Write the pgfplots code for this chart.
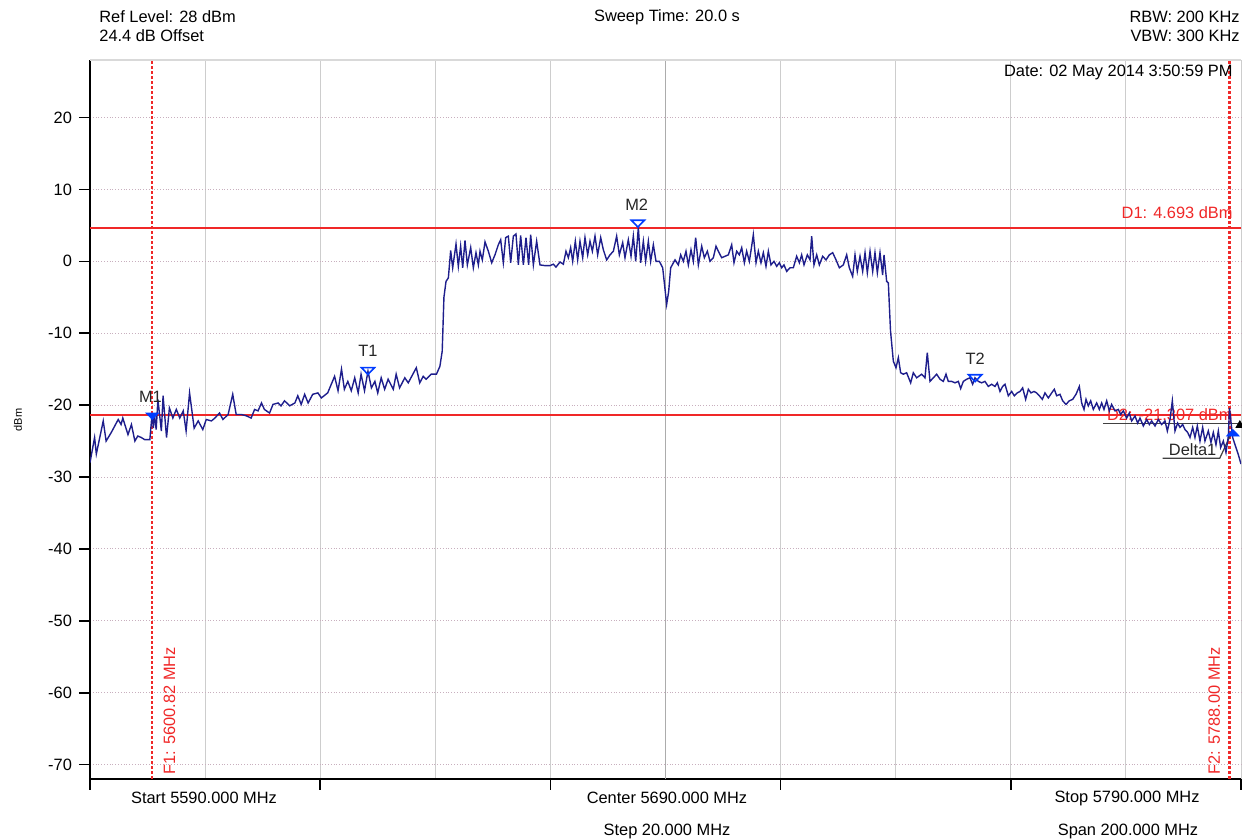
\documentclass[border=0pt]{standalone}
\usepackage{fontspec}
\setmainfont{Liberation Sans}
\usepackage{pgfplots}
\usepackage{pgfplotstable}
\pgfplotsset{compat=1.18}
\definecolor{trace}{RGB}{30,30,140}
\definecolor{mblue}{RGB}{0,60,255}
\definecolor{lred}{RGB}{240,40,40}
\definecolor{vgrid}{RGB}{205,205,205}
\definecolor{hgrid}{RGB}{200,175,190}

\pgfplotstableread{
f v
5590.0 -28.0
5590.8 -24.5
5591.1 -26.8
5592.3 -22.2
5592.8 -25.0
5593.7 -23.8
5594.9 -22.0
5595.4 -22.7
5595.7 -21.8
5596.6 -24.1
5597.2 -22.7
5597.8 -25.0
5598.3 -24.3
5598.9 -24.5
5599.5 -24.8
5600.4 -24.8
5600.8 -21.1
5601.0 -23.2
5601.2 -21.3
5601.5 -23.4
5601.8 -19.2
5602.4 -23.6
5602.7 -18.7
5603.3 -24.5
5603.8 -20.4
5604.4 -21.8
5605.0 -20.6
5605.6 -21.8
5606.2 -20.8
5606.7 -23.6
5607.3 -18.3
5608.1 -23.2
5608.8 -22.2
5609.6 -23.4
5610.2 -22.0
5611.1 -22.2
5611.7 -21.8
5612.5 -21.1
5613.1 -22.0
5614.0 -21.3
5614.8 -18.5
5615.4 -21.3
5616.3 -21.3
5617.2 -21.5
5618.0 -21.8
5618.6 -20.6
5619.2 -20.8
5619.8 -19.7
5620.3 -20.6
5621.2 -21.1
5621.8 -19.9
5622.7 -19.7
5623.2 -20.1
5623.8 -19.4
5624.7 -20.1
5625.6 -19.7
5626.1 -18.7
5626.7 -19.9
5627.3 -18.5
5627.9 -19.7
5628.7 -18.5
5629.6 -18.3
5630.2 -19.0
5631.3 -18.3
5632.5 -16.0
5633.1 -18.0
5633.7 -15.0
5634.2 -17.8
5634.8 -16.7
5635.4 -18.0
5636.0 -16.2
5636.6 -18.3
5637.1 -15.7
5637.7 -18.0
5638.3 -15.3
5638.9 -17.6
5639.5 -16.7
5640.0 -18.3
5640.6 -16.2
5641.2 -17.8
5641.8 -16.4
5642.7 -17.8
5643.2 -15.7
5643.8 -17.6
5644.7 -16.2
5645.3 -16.9
5646.1 -15.7
5646.7 -14.8
5647.3 -16.9
5647.9 -16.0
5648.4 -16.4
5649.3 -15.7
5650.2 -15.7
5650.8 -14.6
5651.2 -12.5
5651.5 -5.0
5651.86 -2.8
5652.27 -2.3
5652.67 1.5
5653.02 -0.9
5653.6 2.4
5654.0 -0.7
5654.4 2.1
5654.76 -0.9
5655.16 2.9
5655.57 -0.5
5656.15 1.9
5656.61 -0.9
5657.07 1.2
5657.48 -0.5
5657.77 1.4
5658.17 0.2
5658.64 2.7
5659.22 1.4
5659.8 -0.2
5660.37 0.9
5660.95 2.3
5661.36 3.0
5661.82 -0.2
5662.23 3.3
5662.69 3.5
5663.1 -0.2
5663.56 3.5
5664.02 3.8
5664.43 -0.5
5664.83 3.6
5665.3 -0.5
5665.76 3.3
5666.22 -0.5
5666.57 3.7
5667.04 -0.5
5667.61 2.8
5668.19 -0.5
5669.06 -0.6
5669.93 -0.6
5670.51 -0.4
5670.97 -0.8
5671.67 -0.1
5672.25 -0.4
5672.71 1.4
5673.12 0.5
5673.52 1.9
5673.87 0.0
5674.33 2.8
5674.74 0.2
5675.14 2.8
5675.61 0.5
5676.01 3.3
5676.48 0.9
5676.88 2.8
5677.29 1.4
5677.75 3.5
5678.21 0.9
5678.74 3.3
5679.2 1.6
5679.78 0.2
5680.36 0.9
5680.94 1.4
5681.51 3.5
5681.98 0.9
5682.56 2.6
5682.96 0.5
5683.54 3.0
5684.01 0.7
5684.41 3.5
5684.82 0.0
5685.28 4.7
5685.69 -0.2
5686.15 2.8
5686.55 0.0
5687.02 2.8
5687.42 0.0
5687.89 2.3
5688.35 0.0
5688.93 0.0
5689.51 -0.9
5689.8 -3.0
5690.2 -6.0
5690.55 -4.2
5690.9 -0.9
5691.65 0.2
5692.23 -0.5
5692.64 0.9
5693.1 0.0
5693.56 1.4
5693.97 -0.5
5694.43 1.6
5694.84 0.0
5695.24 3.3
5695.71 -0.5
5696.29 2.1
5696.75 0.5
5697.27 1.4
5697.73 0.0
5698.31 0.5
5698.78 2.1
5699.18 1.4
5699.76 0.5
5700.34 0.7
5700.92 0.9
5701.5 2.3
5701.9 -0.2
5702.37 1.4
5702.83 0.9
5703.24 1.9
5703.7 -0.2
5704.1 1.4
5704.57 0.0
5704.97 2.1
5705.26 3.7
5705.73 -0.2
5706.13 1.4
5706.59 -0.2
5707.0 1.2
5707.46 -0.7
5707.87 1.4
5708.33 -0.5
5708.85 0.0
5709.32 -0.7
5709.78 -0.2
5710.19 -0.9
5710.59 -0.5
5711.06 -1.4
5711.63 -0.9
5712.21 -0.9
5712.79 0.7
5713.26 -0.2
5713.66 0.9
5714.07 -0.5
5714.65 0.9
5715.11 0.2
5715.4 3.5
5715.8 -0.5
5716.27 0.9
5716.73 -0.5
5717.31 0.7
5717.89 0.2
5718.47 0.9
5719.05 1.2
5719.63 0.2
5720.21 -0.9
5720.9 -0.5
5721.48 0.9
5721.94 -0.9
5722.52 -2.1
5722.93 0.9
5723.33 -1.4
5723.8 0.7
5724.26 -1.4
5724.67 1.2
5725.07 -1.6
5725.54 1.4
5726.0 -1.4
5726.4 1.2
5726.81 -1.6
5727.27 1.2
5727.73 -1.9
5727.97 0.9
5728.43 -2.8
5728.72 -3.0
5729.1 -9.7
5729.59 -13.9
5730.05 -14.8
5730.46 -13.4
5730.86 -15.5
5731.32 -15.7
5731.9 -15.5
5732.6 -16.9
5733.06 -15.5
5733.64 -16.2
5734.51 -15.7
5735.09 -16.2
5735.49 -12.7
5735.96 -16.7
5736.54 -16.2
5737.12 -15.7
5737.7 -16.4
5738.27 -16.7
5738.74 -15.7
5739.14 -16.7
5739.72 -16.7
5740.3 -16.9
5740.88 -16.7
5741.29 -17.7
5741.75 -16.7
5742.33 -16.4
5742.91 -16.2
5743.37 -17.1
5743.78 -16.2
5744.36 -16.7
5744.94 -16.9
5745.51 -16.7
5746.09 -17.4
5746.67 -17.1
5747.25 -17.4
5747.66 -16.9
5748.12 -18.1
5748.58 -17.4
5748.99 -17.1
5749.57 -18.7
5750.15 -18.1
5750.61 -18.7
5751.13 -18.3
5751.6 -18.1
5752.06 -17.6
5752.58 -19.2
5753.05 -17.8
5753.51 -18.3
5754.03 -18.1
5754.49 -18.3
5754.96 -18.7
5755.48 -19.2
5755.94 -18.3
5756.52 -19.0
5757.1 -18.3
5757.56 -17.8
5757.97 -18.7
5758.55 -18.5
5759.01 -19.4
5759.59 -19.9
5760.17 -19.4
5760.75 -19.2
5761.33 -18.5
5761.91 -17.4
5762.31 -19.7
5762.72 -20.6
5763.07 -19.2
5763.47 -20.1
5763.88 -19.4
5764.34 -20.6
5764.92 -19.7
5765.38 -20.6
5765.79 -19.7
5766.19 -20.6
5766.66 -19.4
5767.12 -20.8
5767.52 -19.9
5768.1 -20.8
5768.68 -20.6
5769.09 -21.3
5769.55 -20.8
5770.13 -21.8
5770.59 -21.1
5771.0 -22.2
5771.58 -21.5
5772.04 -22.5
5772.45 -21.8
5773.03 -22.9
5773.61 -22.0
5774.07 -22.7
5774.48 -22.2
5775.06 -22.9
5775.63 -22.0
5776.21 -22.7
5776.79 -22.2
5777.2 -23.6
5777.66 -22.0
5778.07 -19.4
5778.53 -23.6
5778.99 -22.5
5779.4 -23.1
5779.86 -22.7
5780.27 -23.4
5780.73 -23.8
5781.14 -24.5
5781.6 -23.1
5782.0 -24.5
5782.41 -22.9
5782.87 -25.0
5783.34 -23.1
5783.74 -25.0
5784.32 -23.6
5784.78 -25.2
5785.19 -23.8
5785.65 -25.5
5786.06 -23.6
5786.46 -25.9
5786.93 -25.0
5787.39 -26.6
5787.8 -24.3
5788.0 -20.4
5788.55 -24.5
5788.96 -25.5
5789.54 -26.9
5790.0 -28.2
}\tracedata

\begin{document}
\begin{tikzpicture}[font=\fontsize{8.2}{10}\selectfont]
\useasboundingbox (-45pt,-30pt) rectangle (576pt,389.5pt);
\begin{axis}[
  scale only axis, width=575.5pt, height=359.5pt,
  xmin=5590, xmax=5790, ymin=-72, ymax=28,
  axis x line*=bottom, axis y line*=left,
  axis line style={black, line width=0.8pt},
  xtick={5590,5630,...,5790}, xticklabels={},
  minor x tick num=1,
  ytick={-70,-60,...,20},
  tick align=outside,
  xtick style={black, line width=0.8pt},
  ytick style={black, line width=0.8pt},
  major tick length=5.5pt,
  minor tick length=0pt,
  xmajorgrids, xminorgrids, ymajorgrids,
  major x grid style={vgrid, line width=0.5pt, solid},
  minor x grid style={vgrid, line width=0.5pt, solid},
  major y grid style={hgrid, densely dotted, line width=0.5pt},
  /pgf/number format/assume math mode=true,
  yticklabel style={font=\fontsize{8.2}{10}\selectfont},
]
\draw[gray!65, line width=0.7pt] (axis cs:5690,-72) -- (axis cs:5690,28);
\draw[gray!30, line width=0.8pt] (rel axis cs:0,1) -- (rel axis cs:1,1);

\addplot[lred, line width=1pt] coordinates {(5590,4.693) (5790,4.693)};
\addplot[lred, line width=1pt] coordinates {(5590,-21.307) (5790,-21.307)};
\addplot[lred, dash pattern=on 1.5pt off 1pt, line width=0.85pt] coordinates {(5600.82,-72) (5600.82,28)};
\addplot[lred, dash pattern=on 1.5pt off 1pt, line width=1.1pt] coordinates {(5788.0,-72) (5788.0,28)};

\node[lred, anchor=east, inner sep=0pt] at ([xshift=-4pt,yshift=7.5pt]axis cs:5790,4.693) {D1: 4.693 dBm};
\node[lred, anchor=east, inner sep=0pt] at ([xshift=-4pt]axis cs:5790,-21.307) {D2: -21.307 dBm};
\node[lred, rotate=90, anchor=north west, inner sep=0pt] at ([xshift=5.5pt,yshift=2pt]axis cs:5600.82,-72) {F1: 5600.82 MHz};
\node[lred, rotate=90, anchor=south west, inner sep=0pt] at ([xshift=-4.5pt,yshift=2pt]axis cs:5788.0,-72) {F2: 5788.00 MHz};

\draw[black!75, line width=0.6pt] (axis cs:5766,-22.6) -- (axis cs:5790,-22.6);
\draw[black!75, line width=0.6pt] (axis cs:5776.4,-27.4) -- (axis cs:5786.3,-27.4) -- (axis cs:5788.1,-24.3);
\node[black!85] at (axis cs:5781.6,-26.2) {Delta1};

\addplot[trace, line width=0.7pt] table[x=f, y=v] {\tracedata};

\addplot[only marks, mark=triangle*, mark size=3.6pt, mark options={fill=mblue, draw=mblue, rotate=180, yscale=0.6}] coordinates {(5600.82,-21.4)};
\addplot[only marks, mark=triangle, mark size=3.8pt, mark options={draw=mblue, line width=0.8pt, fill=white, rotate=180, yscale=0.6}] coordinates {(5685.2,5.4) (5638.3,-15.1) (5743.8,-16.1)};
\addplot[only marks, mark=triangle*, mark size=3.6pt, mark options={fill=mblue, draw=mblue, yscale=0.6}] coordinates {(5788.6,-24.0)};
\addplot[only marks, mark=triangle*, mark size=2.2pt, mark options={fill=black, draw=black, rotate=-120}] coordinates {(5789.8,-22.8)};

\node[black!85] at (axis cs:5600.5,-18.9) {M1};
\node[black!85] at (axis cs:5685.0,7.9) {M2};
\node[black!85] at (axis cs:5638.3,-12.5) {T1};
\node[black!85] at (axis cs:5743.8,-13.5) {T2};
\end{axis}

\node[anchor=west, inner sep=0pt] at (4.5pt,381pt) {Ref Level: 28 dBm};
\node[anchor=west, inner sep=0pt] at (4.5pt,371.5pt) {24.4 dB Offset};
\node[inner sep=0pt] at (288.5pt,381pt) {Sweep Time: 20.0 s};
\node[anchor=east, inner sep=0pt] at (575pt,381pt) {RBW: 200 KHz};
\node[anchor=east, inner sep=0pt] at (575pt,371.5pt) {VBW: 300 KHz};
\node[anchor=east, inner sep=0pt] at (571.5pt,353.5pt) {Date: 02 May 2014 3:50:59 PM};
\node[inner sep=0pt] at (57pt,-9.5pt) {Start 5590.000 MHz};
\node[inner sep=0pt] at (288.5pt,-9.5pt) {Center 5690.000 MHz};
\node[inner sep=0pt] at (518.5pt,-9.5pt) {Stop 5790.000 MHz};
\node[inner sep=0pt] at (288.5pt,-26pt) {Step 20.000 MHz};
\node[inner sep=0pt] at (519pt,-26pt) {Span 200.000 MHz};
\node[rotate=90, inner sep=0pt, font=\fontsize{5.5}{6}\selectfont] at (-36pt,179.5pt) {dBm};
\end{tikzpicture}
\end{document}
